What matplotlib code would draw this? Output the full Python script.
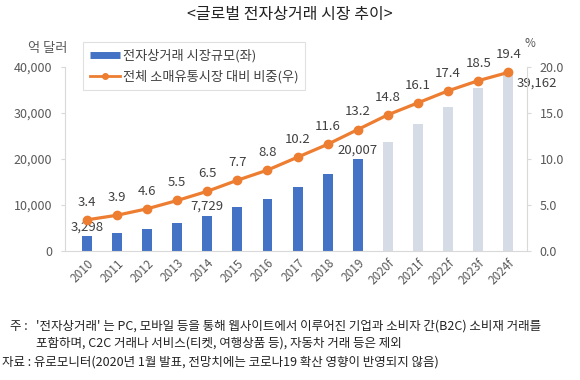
import matplotlib
matplotlib.use('Agg')
import matplotlib.pyplot as plt
from matplotlib.lines import Line2D
import numpy as np

plt.rcParams['font.family'] = ['Noto Sans CJK KR', 'DejaVu Sans']

years = ['2010', '2011', '2012', '2013', '2014', '2015', '2016', '2017', '2018', '2019',
         '2020f', '2021f', '2022f', '2023f', '2024f']
market_size = [3298, 4000, 4900, 6200, 7729, 9600, 11400, 14000, 16800, 20007,
               23700, 27600, 31400, 35400, 39162]
share_pct = [3.4, 3.9, 4.6, 5.5, 6.5, 7.7, 8.8, 10.2, 11.6, 13.2, 14.8, 16.1, 17.4, 18.5, 19.4]
n_actual = 10
bar_labels = {0: '3,298', 4: '7,729', 9: '20,007'}

blue = '#4472C4'
pale = '#D6DCE5'
orange = '#ED7D31'
tick_col = '#595959'
txt_col = '#404040'

fig = plt.figure(figsize=(5.8, 3.8), dpi=100)
ax = fig.add_axes([0.112, 0.339, 0.797, 0.485])
x = np.arange(len(years))
colors = [blue if i < n_actual else pale for i in range(len(years))]
ax.bar(x, market_size, width=0.33, color=colors, zorder=2)
ax.set_ylim(0, 40000)
ax.set_xlim(-0.73, 14.63)
ax.set_yticks([0, 10000, 20000, 30000, 40000])
ax.set_yticklabels(['0', '10,000', '20,000', '30,000', '40,000'], color=tick_col, fontsize=9)
ax.set_xticks(x)
ax.set_xticklabels(years, rotation=45, color=tick_col, fontsize=8.5,
                   rotation_mode='anchor', ha='right', va='top')
ax.tick_params(axis='x', length=0, pad=4)
ax.tick_params(axis='y', length=3, color='#D9D9D9', pad=6)
for s in ['top', 'right']:
    ax.spines[s].set_visible(False)
ax.spines['left'].set_color('#D9D9D9')
ax.spines['bottom'].set_color('#D9D9D9')

for i, lab in bar_labels.items():
    ax.text(x[i], market_size[i] + 600, lab, ha='center', va='bottom', fontsize=9.5, color=txt_col, zorder=5)
ax.text(x[-1] + 0.95, market_size[-1] - 1200, '39,162', ha='center', va='top',
        fontsize=9.5, color=txt_col, zorder=5)

ax2 = ax.twinx()
ax2.set_ylim(0, 20)
ax2.set_yticks([0, 5, 10, 15, 20])
ax2.set_yticklabels(['0.0', '5.0', '10.0', '15.0', '20.0'], color=tick_col, fontsize=9)
ax2.tick_params(axis='y', length=3, color='#D9D9D9', pad=6)
for s in ['top', 'left', 'bottom']:
    ax2.spines[s].set_visible(False)
ax2.spines['right'].set_color('#D9D9D9')
ax2.plot(x, share_pct, color=orange, lw=2.3, marker='o', ms=6, zorder=4)
for xi, v in zip(x, share_pct):
    ax2.text(xi, v + 1.2, f'{v:.1f}', ha='center', va='bottom', fontsize=9.5, color=txt_col)

handles = [Line2D([], [], color=blue, lw=5, solid_capstyle='butt'),
           Line2D([], [], color=orange, lw=2, marker='o', ms=4)]
leg = ax2.legend(handles, ['전자상거래 시장규모(좌)', '전체 소매유통시장 대비 비중(우)'],
                 loc='upper left', bbox_to_anchor=(0.039, 1.134), fontsize=9.5,
                 frameon=True, fancybox=False, edgecolor='#D9D9D9', labelcolor=txt_col,
                 handlelength=2.3, handletextpad=0.2, borderpad=0.5, labelspacing=0.6,
                 borderaxespad=0)
leg.get_frame().set_linewidth(0.8)

fig.text(0.5, 0.963, '<글로벌 전자상거래 시장 추이>', ha='center', va='center', fontsize=11.5, color='#222222')
fig.text(0.048, 0.873, '억 달러', ha='left', va='center', fontsize=9.5, color=tick_col)
fig.text(0.905, 0.885, '%', ha='left', va='center', fontsize=8.5, color=tick_col)

fn = 9
fig.text(0.017, 0.142, '주 :', fontsize=fn, color='#222222', va='center')
fig.text(0.062, 0.142, "'전자상거래' 는 PC, 모바일 등을 통해 웹사이트에서 이루어진 기업과 소비자 간(B2C) 소비재 거래를",
         fontsize=fn, color='#222222', va='center')
fig.text(0.062, 0.097, '포함하며, C2C 거래나 서비스(티켓, 여행상품 등), 자동차 거래 등은 제외',
         fontsize=fn, color='#222222', va='center')
fig.text(0.003, 0.047, '자료 : 유로모니터(2020년 1월 발표, 전망치에는 코로나19 확산 영향이 반영되지 않음)',
         fontsize=fn, color='#222222', va='center')

fig.savefig('out.png', dpi=100)
